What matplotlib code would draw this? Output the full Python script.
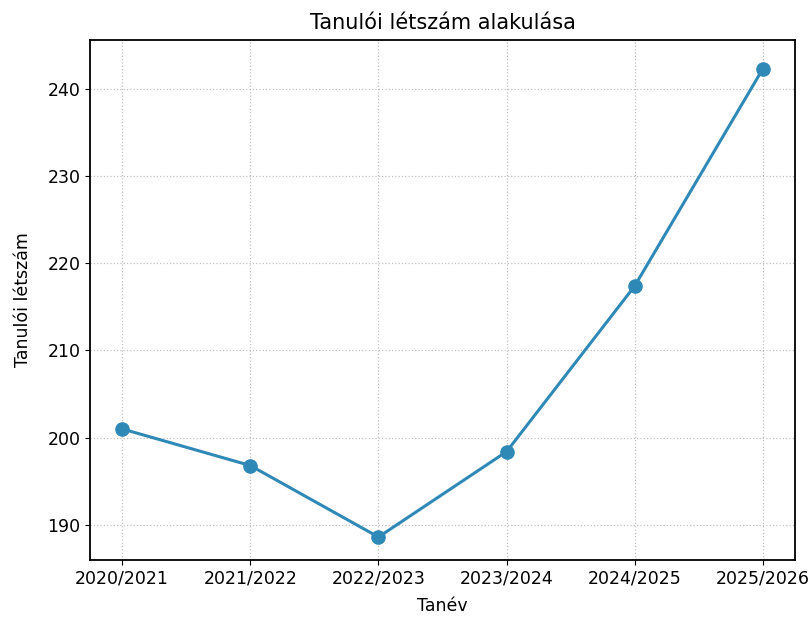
import matplotlib
matplotlib.use("Agg")
import matplotlib.pyplot as plt

years = ["2020/2021", "2021/2022", "2022/2023", "2023/2024", "2024/2025", "2025/2026"]
students = [201.0, 196.8, 188.6, 198.4, 217.4, 242.3]

fig = plt.figure(figsize=(8.12, 6.24), dpi=100)
ax = fig.add_axes([0.111, 0.103, 0.868, 0.833])
ax.plot(years, students, marker="o", color="#2e89b6", linewidth=2.2, markersize=9.5)
ax.set_title("Tanulói létszám alakulása", fontsize=15, pad=8)
ax.set_xlabel("Tanév", fontsize=12.5, labelpad=7)
ax.set_ylabel("Tanulói létszám", fontsize=12.5, labelpad=11)
ax.tick_params(labelsize=12.5)
ax.set_yticks([190, 200, 210, 220, 230, 240])
ax.set_ylim(186.0, 245.6)
ax.grid(True, linestyle=":", color="#999999", alpha=0.6, linewidth=0.9)
for s in ax.spines.values():
    s.set_linewidth(1.3)
fig.savefig("out.png", dpi=100)
